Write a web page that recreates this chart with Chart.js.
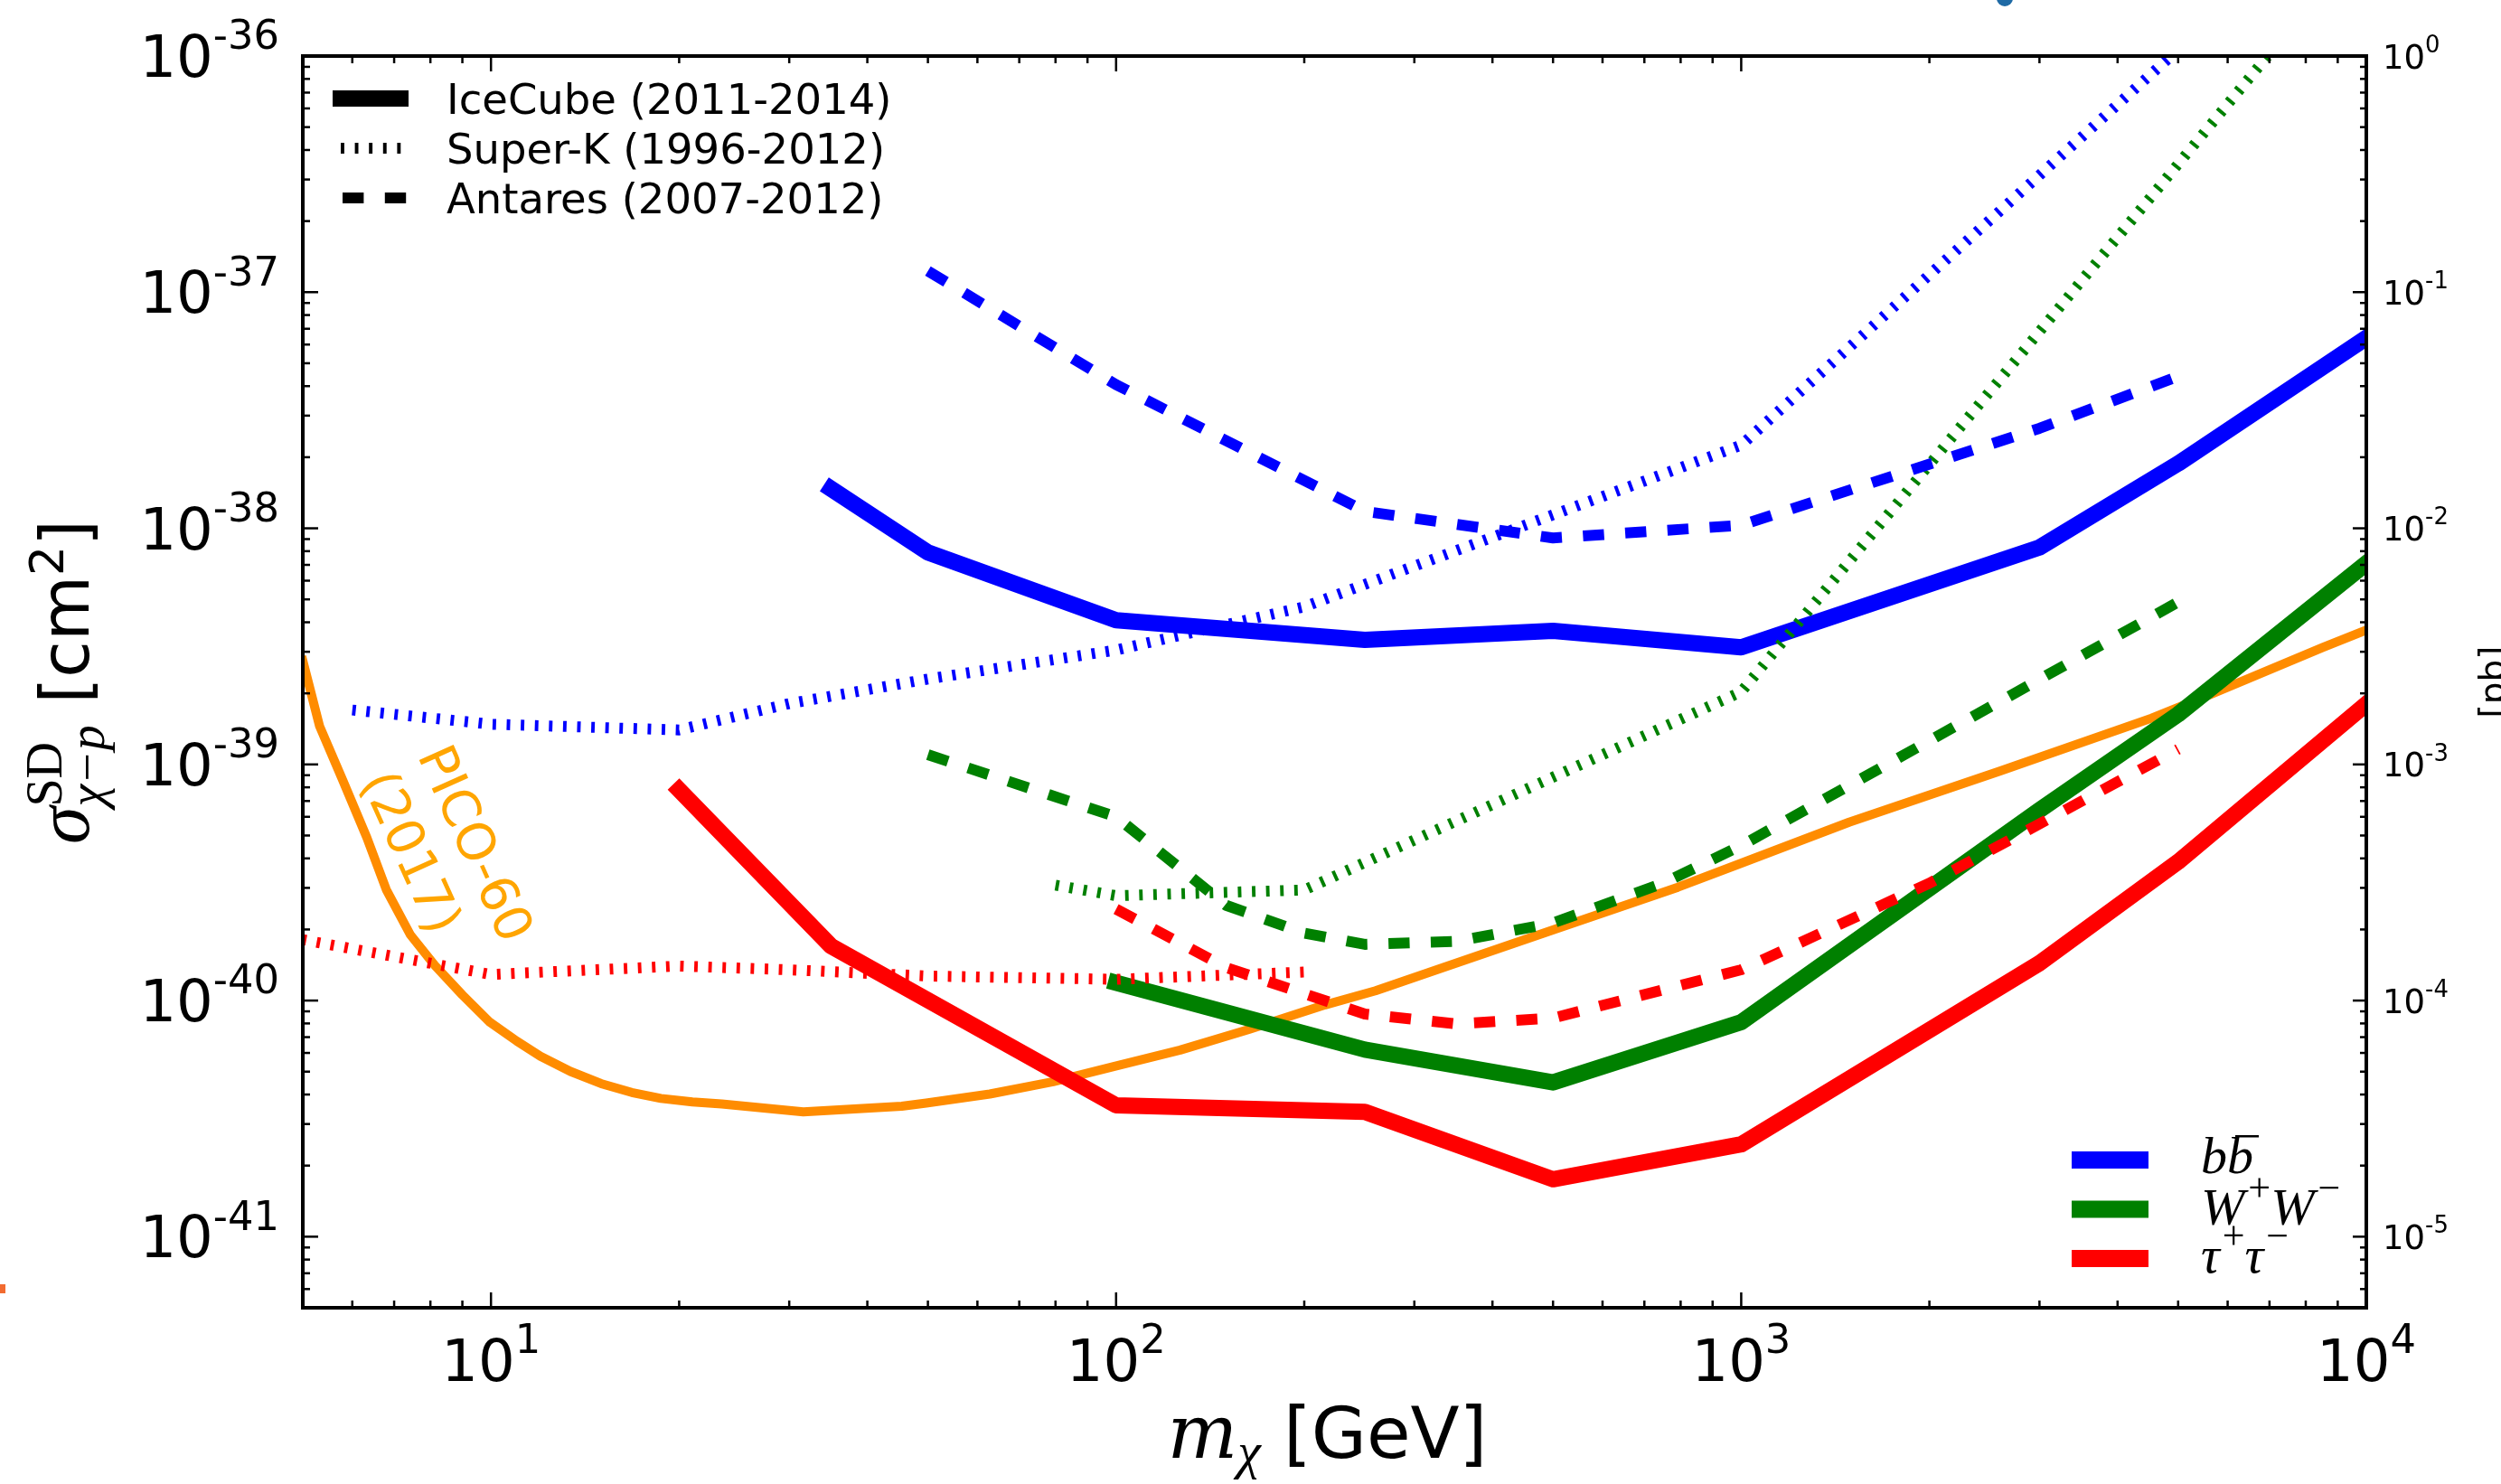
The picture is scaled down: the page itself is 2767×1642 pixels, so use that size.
<!DOCTYPE html>
<html>
<head>
<meta charset="utf-8">
<script src="https://cdn.jsdelivr.net/npm/chart.js@4.4.1/dist/chart.umd.min.js"></script>
<style>
  html, body { margin: 0; padding: 0; background: #fff; }
  canvas { display: block; }
</style>
</head>
<body>
<canvas id="c" width="2767" height="1642"></canvas>
<script>
// ====== limites de los ejes ======
const xMin = 5, xMax = 1e4;          // m_chi [GeV]
const yMin = 5e-42, yMax = 1e-36;    // sigma [cm^2]
const pbMin = 5e-6, pbMax = 1;       // mismo eje en pb

// etiquetas de los ticks (exponentes)
const xTickExp  = [1, 2, 3, 4];
const yTickExp  = [-36, -37, -38, -39, -40, -41];
const pbTickExp = [0, -1, -2, -3, -4, -5];

// ---------- IceCube (2011-2014), linea continua ----------
const massIC_bb = [35, 50, 100, 250, 500, 1000, 3000, 5000, 10000];
const sigIC_bb  = [1.47e-38, 7.9e-39, 4.08e-39, 3.37e-39, 3.68e-39, 3.13e-39, 8.3e-39, 1.88e-38, 6.4e-38];
const massIC_ww = [100, 250, 500, 1000, 3000, 5000, 10000];
const sigIC_ww  = [1.19e-40, 6.2e-41, 4.5e-41, 8.1e-41, 6.4e-40, 1.63e-39, 7.1e-39];
const massIC_tt = [20, 35, 100, 250, 500, 1000, 3000, 5000, 10000];
const sigIC_tt  = [7.8e-40, 1.7e-40, 3.6e-41, 3.38e-41, 1.75e-41, 2.46e-41, 1.44e-40, 3.87e-40, 1.8e-39];

// ---------- Super-K (1996-2012), punteada ----------
const massSK_bb = [6, 10, 20, 30, 50, 100, 200, 500, 1000, 10000];
const sigSK_bb  = [1.7e-39, 1.48e-39, 1.4e-39, 1.81e-39, 2.3e-39, 3.05e-39, 4.65e-39, 1.14e-38, 2.25e-38, 5.6e-36];
const massSK_ww = [80, 100, 200, 1000, 10000];
const sigSK_ww  = [3.08e-40, 2.78e-40, 2.94e-40, 2.03e-39, 3.2e-36];
const massSK_tt = [5, 10, 20, 30, 50, 100, 200];
const sigSK_tt  = [1.81e-40, 1.29e-40, 1.40e-40, 1.35e-40, 1.27e-40, 1.23e-40, 1.32e-40];

// ---------- Antares (2007-2012), discontinua ----------
const massAN_bb = [50, 100, 250, 500, 1000, 3000, 5000];
const sigAN_bb  = [1.23e-37, 4.06e-38, 1.18e-38, 9.1e-39, 1.03e-38, 2.65e-38, 4.4e-38];
const massAN_ww = [50, 100, 150, 200, 250, 350, 500, 750, 1000, 5000];
const sigAN_ww  = [1.1e-39, 6.0e-40, 2.53e-40, 1.93e-40, 1.73e-40, 1.78e-40, 2.13e-40, 3.14e-40, 4.53e-40, 4.87e-39];
const massAN_tt = [100, 150, 250, 350, 500, 1000, 2000, 5000];
const sigAN_tt  = [2.44e-40, 1.38e-40, 8.77e-41, 7.96e-41, 8.43e-41, 1.35e-40, 3.14e-40, 1.16e-39];

// ---------- PICO-60 (2017) ----------
const massPICO = [5, 5.32, 5.79, 6.33, 6.8, 7.43, 8.13, 8.99, 9.93, 11.0, 12.0, 13.4, 15.0, 16.8, 18.7,
                  21.0, 23.4, 31.6, 45.4, 49.7, 62.8, 79.3, 99.1, 126.6, 163.6, 216, 260, 318, 502, 792, 1001,
                  1488, 2598, 4534, 5666, 8516, 10000];
const sigPICO  = [2.75e-39, 1.45e-39, 8.6e-40, 4.9e-40, 2.95e-40, 1.9e-40, 1.41e-40, 1.06e-40,
                  8.15e-41, 6.73e-41, 5.81e-41, 5.01e-41, 4.45e-41, 4.08e-41, 3.85e-41, 3.72e-41, 3.65e-41,
                  3.38e-41, 3.57e-41, 3.68e-41, 4.02e-41, 4.53e-41, 5.25e-41, 6.17e-41, 7.57e-41, 9.59e-41,
                  1.10e-40, 1.32e-40, 2.0e-40, 3.02e-40, 3.82e-40, 5.69e-40, 9.38e-40, 1.57e-39, 1.99e-39,
                  3.13e-39, 3.71e-39];

// ====== estilos ======
const AZUL = '#0000ff', VERDE = '#008000', ROJO = '#ff0000', NARANJA = '#ff8c00';
const DOT  = [3.9, 11.7];
const DASH = [23.4, 23.4];
const SANS = '"DejaVu Sans"';
const SERIF = '"Liberation Serif"';
const DSERIF = '"DejaVu Serif"';

const pts = (m, s) => m.map((v, i) => ({x: v, y: s[i]}));

function serie(m, s, color, tipo){
  const d = {data: pts(m, s), borderColor: color, pointRadius: 0, tension: 0, clip: 0, fill: false,
             borderJoinStyle: 'round'};
  if(tipo === 'ic')   Object.assign(d, {borderWidth: 18, borderCapStyle: 'square', order: 3});
  if(tipo === 'sk')   Object.assign(d, {borderWidth: 12, borderDash: DOT,  borderCapStyle: 'butt', order: 2});
  if(tipo === 'an')   Object.assign(d, {borderWidth: 12, borderDash: DASH, borderCapStyle: 'butt', order: 1});
  if(tipo === 'pico') Object.assign(d, {borderWidth: 10, borderCapStyle: 'square', order: 4});
  return d;
}

const datasets = [
  serie(massAN_bb, sigAN_bb, AZUL, 'an'),
  serie(massAN_ww, sigAN_ww, VERDE, 'an'),
  serie(massAN_tt, sigAN_tt, ROJO, 'an'),
  serie(massSK_bb, sigSK_bb, AZUL, 'sk'),
  serie(massSK_ww, sigSK_ww, VERDE, 'sk'),
  serie(massSK_tt, sigSK_tt, ROJO, 'sk'),
  serie(massIC_bb, sigIC_bb, AZUL, 'ic'),
  serie(massIC_ww, sigIC_ww, VERDE, 'ic'),
  serie(massIC_tt, sigIC_tt, ROJO, 'ic'),
  serie(massPICO, sigPICO, NARANJA, 'pico'),
];

// ---------- utilidades de dibujo ----------
function logTicks(min, max){
  const out = [];
  for(let e = Math.floor(Math.log10(min)); e <= Math.ceil(Math.log10(max)); e++){
    for(let k = 1; k <= 9; k++){
      const v = k * Math.pow(10, e);
      if(v >= min * (1 - 1e-9) && v <= max * (1 + 1e-9)) out.push({v, major: k === 1});
    }
  }
  return out;
}

// "10" con exponente como superindice
function pow10(ctx, exp, x, y, size, align){
  const b = '10', s = String(exp);
  ctx.font = `${size}px ${SANS}`;
  const wb = ctx.measureText(b).width;
  ctx.font = `${size * 0.7}px ${SANS}`;
  const ws = ctx.measureText(s).width;
  const w = wb + ws;
  const x0 = align === 'right' ? x - w : align === 'center' ? x - w / 2 : x;
  ctx.textAlign = 'left'; ctx.textBaseline = 'alphabetic';
  ctx.font = `${size}px ${SANS}`;
  ctx.fillText(b, x0, y);
  ctx.font = `${size * 0.7}px ${SANS}`;
  ctx.fillText(s, x0 + wb, y - size * 0.48);
}

// trozos de texto seguidos: {t, f, dy, stack} (stack = no avanza, para sub/super apilados)
function runs(ctx, parts, x, y, measureOnly){
  let cx = x, pend = 0;
  ctx.textAlign = 'left'; ctx.textBaseline = 'alphabetic';
  for(const p of parts){
    ctx.font = p.f;
    const w = ctx.measureText(p.t).width;
    if(!measureOnly) ctx.fillText(p.t, cx + (p.dx || 0), y + (p.dy || 0));
    if(p.stack){ pend = Math.max(pend, w); continue; }
    if(pend){ cx += Math.max(pend, w); pend = 0; } else cx += w + (p.dx || 0);
  }
  return cx - x;
}

function hline(ctx, x1, x2, y, lw, color, dash, off){
  ctx.save();
  ctx.strokeStyle = color; ctx.lineWidth = lw; ctx.lineCap = 'butt';
  ctx.setLineDash(dash || []); ctx.lineDashOffset = off || 0;
  ctx.beginPath(); ctx.moveTo(x1, y); ctx.lineTo(x2, y); ctx.stroke();
  ctx.restore();
}

const decor = {
  id: 'decor',
  afterDraw(chart){
    const {ctx, chartArea: a} = chart;
    const sx = chart.scales.x, sy = chart.scales.y, sp = chart.scales.pb;
    ctx.save();

    // marco
    ctx.strokeStyle = '#000'; ctx.lineWidth = 4; ctx.setLineDash([]);
    ctx.strokeRect(a.left, a.top, a.right - a.left, a.bottom - a.top);

    // ticks hacia dentro
    ctx.lineWidth = 2.5;
    const seg = (x1, y1, x2, y2) => { ctx.beginPath(); ctx.moveTo(x1, y1); ctx.lineTo(x2, y2); ctx.stroke(); };
    logTicks(xMin, xMax).forEach(t => {
      const p = sx.getPixelForValue(t.v), L = t.major ? 17 : 8;
      seg(p, a.bottom, p, a.bottom - L); seg(p, a.top, p, a.top + L);
    });
    logTicks(yMin, yMax).forEach(t => {
      const p = sy.getPixelForValue(t.v), L = t.major ? 17 : 8;
      seg(a.left, p, a.left + L, p);
    });
    logTicks(pbMin, pbMax).forEach(t => {
      const p = sp.getPixelForValue(t.v), L = t.major ? 15 : 7;
      seg(a.right, p, a.right - L, p);
    });

    // etiquetas de ticks
    ctx.fillStyle = '#000';
    xTickExp.forEach(e => pow10(ctx, e, sx.getPixelForValue(Math.pow(10, e)), a.bottom + 81, 64, 'center'));
    yTickExp.forEach(e => pow10(ctx, e, 309, sy.getPixelForValue(Math.pow(10, e)) + 23, 64, 'right'));
    pbTickExp.forEach(e => pow10(ctx, e, 2636, sp.getPixelForValue(Math.pow(10, e)) + 13.5, 37, 'left'));

    // titulo eje x
    const xl = [
      {t: 'm', f: `italic 82px ${DSERIF}`},
      {t: 'χ', f: `italic 58px ${SERIF}`, dy: 12},
      {t: ' [GeV]', f: `79px ${SANS}`},
    ];
    const cx = (a.left + a.right) / 2;
    const wx = runs(ctx, xl, 0, 0, true);
    runs(ctx, xl, cx - wx / 2 - 8, 1613);

    // titulo eje y (girado)
    const yl = [
      {t: 'σ', f: `italic 84px ${SERIF}`},
      {t: 'SD', f: `56px ${SERIF}`, dy: -30, stack: true},
      {t: 'χ−p', f: `italic 56px ${SERIF}`, dy: 17},
      {t: ' [cm', f: `74px ${SANS}`},
      {t: '2', f: `52px ${SANS}`, dy: -28},
      {t: ']', f: `74px ${SANS}`},
    ];
    const cy = (a.top + a.bottom) / 2;
    ctx.save();
    ctx.translate(98, cy); ctx.rotate(-Math.PI / 2);
    const wy = runs(ctx, yl, 0, 0, true);
    runs(ctx, yl, -wy / 2, 0);
    ctx.restore();

    // etiqueta eje derecho (cortada en el borde)
    ctx.save();
    ctx.translate(2771, cy); ctx.rotate(-Math.PI / 2);
    ctx.font = `39px ${SANS}`; ctx.textAlign = 'center'; ctx.textBaseline = 'alphabetic';
    ctx.fillText('[pb]', 0, 0);
    ctx.restore();

    // leyenda de experimentos
    const lx1 = 368, lx2 = 452, tx = 494;
    hline(ctx, lx1, lx2, 109, 18, '#000');
    hline(ctx, lx1, lx2, 164, 12, '#000', DOT, 6.6);
    hline(ctx, lx1, lx2, 219, 12, '#000', DASH, 35.8);
    ctx.fillStyle = '#000'; ctx.font = `46.5px ${SANS}`; ctx.textAlign = 'left'; ctx.textBaseline = 'alphabetic';
    ctx.fillText('IceCube (2011-2014)', tx, 126);
    ctx.fillText('Super-K (1996-2012)', tx, 181);
    ctx.fillText('Antares (2007-2012)', tx, 236);

    // leyenda de canales
    const cx1 = 2292, cx2 = 2377, tx0 = 2435;
    hline(ctx, cx1, cx2, 1283.5, 19, AZUL);
    hline(ctx, cx1, cx2, 1338, 19, VERDE);
    hline(ctx, cx1, cx2, 1392.5, 19, ROJO);
    ctx.fillStyle = '#000';
    const fi = `italic 58px ${SERIF}`, fs = `44px ${SERIF}`;
    ctx.font = fi;
    const wb = ctx.measureText('b').width;
    runs(ctx, [{t: 'bb', f: fi}], tx0, 1298);
    ctx.fillRect(tx0 + wb + 9, 1256, wb - 3, 2.5);
    runs(ctx, [{t: 'W', f: fi}, {t: '+', f: fs, dy: -26, dx: 4}, {t: 'W', f: fi}, {t: '−', f: fs, dy: -26, dx: 4}], tx0, 1355);
    runs(ctx, [{t: 'τ', f: fi}, {t: '+', f: fs, dy: -26, dx: 3}, {t: 'τ', f: fi}, {t: '−', f: fs, dy: -26, dx: 3}], tx0, 1408);

    // rotulo PICO-60
    ctx.save();
    ctx.fillStyle = '#ffa500';
    ctx.translate(475, 830); ctx.rotate(65.8 * Math.PI / 180);
    ctx.font = `57px ${SANS}`; ctx.textAlign = 'left'; ctx.textBaseline = 'middle';
    ctx.fillText('PICO-60', 0, 0);
    ctx.fillText('(2017)', 0, 68.7);
    ctx.restore();

    // restos de figuras vecinas en los bordes
    ctx.fillStyle = '#f26b30';
    ctx.fillRect(0, 1421, 6, 10);
    ctx.fillStyle = '#1f6aa5';
    ctx.beginPath(); ctx.ellipse(2218, -2, 9, 9, 0, 0, Math.PI * 2); ctx.fill();

    ctx.restore();
  }
};

const ejeFijo = (prop, v) => s => { s[prop] = v; };
const comun = {grid: {display: false}, border: {display: false}, ticks: {display: false}, bounds: 'data'};

new Chart(document.getElementById('c'), {
  type: 'line',
  data: {datasets},
  options: {
    responsive: false, animation: false, devicePixelRatio: 1,
    layout: {padding: {top: 62, left: 0, right: 0, bottom: 0}},
    plugins: {legend: {display: false}, tooltip: {enabled: false}},
    scales: {
      x:  Object.assign({type: 'logarithmic', position: 'bottom', min: xMin, max: xMax, afterFit: ejeFijo('height', 195)}, comun),
      y:  Object.assign({type: 'logarithmic', position: 'left', min: yMin, max: yMax, afterFit: ejeFijo('width', 335)}, comun),
      pb: Object.assign({type: 'logarithmic', axis: 'y', position: 'right', min: pbMin, max: pbMax, afterFit: ejeFijo('width', 149)}, comun),
    }
  },
  plugins: [decor]
});
</script>
</body>
</html>
